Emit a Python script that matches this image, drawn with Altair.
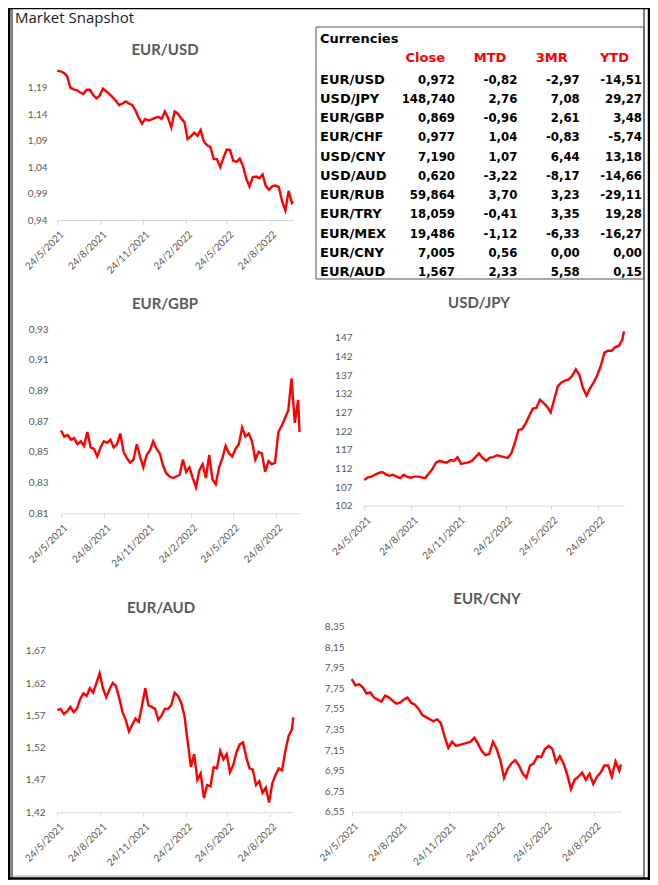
import altair as alt
import pandas as pd

# ---------------- data ----------------
START = "2021-05-24"
LAST = "2022-10-13"
DATES = list(pd.date_range(START, "2022-10-10", freq="7D")) + [pd.Timestamp(LAST)]

EURUSD = [1.222, 1.221, 1.218, 1.212, 1.190, 1.187, 1.185, 1.181, 1.178, 1.186,
          1.186, 1.176, 1.170, 1.175, 1.188, 1.183, 1.178, 1.172, 1.165, 1.157,
          1.160, 1.164, 1.160, 1.157, 1.147, 1.133, 1.122, 1.131, 1.128, 1.130,
          1.133, 1.135, 1.131, 1.145, 1.133, 1.115, 1.145, 1.141, 1.132, 1.125,
          1.093, 1.098, 1.105, 1.099, 1.110, 1.088, 1.081, 1.078, 1.055, 1.055,
          1.040, 1.058, 1.073, 1.072, 1.052, 1.050, 1.056, 1.042, 1.018, 1.003,
          1.021, 1.022, 1.019, 1.026, 1.004, 0.997, 1.004, 1.005, 1.002, 0.975,
          0.958, 0.995, 0.972, 0.975]

EURGBP = [0.864, 0.860, 0.861, 0.858, 0.859, 0.855, 0.857, 0.854, 0.863, 0.853,
          0.852, 0.847, 0.853, 0.857, 0.856, 0.858, 0.853, 0.855, 0.862, 0.850,
          0.846, 0.843, 0.845, 0.855, 0.847, 0.840, 0.848, 0.851, 0.857, 0.852,
          0.849, 0.841, 0.836, 0.834, 0.833, 0.834, 0.835, 0.845, 0.837, 0.840,
          0.833, 0.827, 0.838, 0.842, 0.833, 0.848, 0.832, 0.829, 0.840, 0.846,
          0.854, 0.849, 0.847, 0.852, 0.855, 0.866, 0.860, 0.862, 0.857, 0.845,
          0.850, 0.849, 0.837, 0.844, 0.842, 0.843, 0.863, 0.867, 0.872, 0.877,
          0.898, 0.869, 0.884, 0.863]

USDJPY = [108.9, 109.6, 109.8, 110.3, 110.8, 111.0, 110.4, 110.0, 110.3, 109.8,
          109.4, 110.3, 109.7, 109.5, 109.8, 109.8, 109.6, 109.4, 110.6, 111.8,
          113.5, 114.0, 113.7, 113.5, 114.2, 114.0, 115.0, 113.2, 113.4, 113.6,
          114.0, 115.0, 116.0, 114.8, 114.0, 114.9, 115.0, 115.5, 115.3, 115.0,
          114.8, 116.0, 118.8, 122.3, 122.5, 124.0, 126.0, 128.0, 128.2, 130.4,
          129.5, 128.5, 127.0, 130.5, 134.0, 135.0, 135.5, 135.8, 136.8, 138.5,
          137.0, 133.5, 131.5, 133.5, 135.0, 137.0, 139.5, 143.0, 143.5, 143.5,
          144.5, 144.8, 146.5, 148.7]

EURAUD = [1.578, 1.580, 1.572, 1.576, 1.583, 1.575, 1.580, 1.595, 1.604, 1.600,
          1.612, 1.605, 1.620, 1.635, 1.612, 1.598, 1.610, 1.620, 1.615, 1.597,
          1.575, 1.563, 1.545, 1.555, 1.565, 1.560, 1.585, 1.612, 1.585, 1.583,
          1.580, 1.563, 1.570, 1.580, 1.580, 1.586, 1.605, 1.600, 1.590, 1.570,
          1.530, 1.490, 1.510, 1.470, 1.480, 1.442, 1.462, 1.460, 1.490, 1.488,
          1.515, 1.502, 1.510, 1.482, 1.493, 1.513, 1.525, 1.528, 1.505, 1.488,
          1.486, 1.462, 1.468, 1.450, 1.458, 1.435, 1.465, 1.478, 1.488, 1.485,
          1.515, 1.538, 1.548, 1.567]

EURCNY = [7.84, 7.78, 7.79, 7.76, 7.70, 7.71, 7.66, 7.64, 7.62, 7.68,
          7.66, 7.63, 7.60, 7.61, 7.64, 7.66, 7.61, 7.59, 7.55, 7.49,
          7.47, 7.45, 7.43, 7.45, 7.41, 7.28, 7.17, 7.23, 7.19, 7.20,
          7.21, 7.22, 7.23, 7.27, 7.21, 7.14, 7.10, 7.11, 7.23, 7.16,
          7.05, 6.88, 6.97, 7.02, 7.05, 7.00, 6.92, 6.88, 7.00, 7.02,
          7.09, 7.08, 7.16, 7.19, 7.16, 7.03, 7.09, 7.02, 6.91, 6.77,
          6.86, 6.89, 6.93, 6.86, 6.92, 6.82, 6.89, 6.93, 7.00, 7.00,
          6.89, 7.04, 6.95, 7.01]

TICK_DATES = ["2021-05-24", "2021-08-24", "2021-11-24", "2022-02-24", "2022-05-24", "2022-08-24"]

TICKS_EURUSD = [0.94, 0.99, 1.04, 1.09, 1.14, 1.19]
TICKS_EURGBP = [0.81, 0.83, 0.85, 0.87, 0.89, 0.91, 0.93]
TICKS_USDJPY = [102, 107, 112, 117, 122, 127, 132, 137, 142, 147]
TICKS_EURAUD = [1.42, 1.47, 1.52, 1.57, 1.62, 1.67]
TICKS_EURCNY = [6.55, 6.75, 6.95, 7.15, 7.35, 7.55, 7.75, 7.95, 8.15, 8.35]

TABLE_PAIRS = ["EUR/USD", "USD/JPY", "EUR/GBP", "EUR/CHF", "USD/CNY", "USD/AUD",
               "EUR/RUB", "EUR/TRY", "EUR/MEX", "EUR/CNY", "EUR/AUD"]
TABLE_COLS = ["Close", "MTD", "3MR", "YTD"]
CLOSE = [0.972, 148.740, 0.869, 0.977, 7.190, 0.620, 59.864, 18.059, 19.486, 7.005, 1.567]
MTD = [-0.82, 2.76, -0.96, 1.04, 1.07, -3.22, 3.70, -0.41, -1.12, 0.56, 2.33]
MR3 = [-2.97, 7.08, 2.61, -0.83, 6.44, -8.17, 3.23, 3.35, -6.33, 0.00, 5.58]
YTD = [-14.51, 29.27, 3.48, -5.74, 13.18, -14.66, -29.11, 19.28, -16.27, 0.00, 0.15]

# ---------------- layout (reference pixels) ----------------
W, H = 642, 872
OFF = 8  # page margin


def px(v):
    return v - OFF


def dt(s):
    t = pd.Timestamp(s)
    return alt.DateTime(year=t.year, month=t.month, date=t.day)


D_TICK = (pd.Timestamp("2022-08-24") - pd.Timestamp(START)).days
D_LAST = (pd.Timestamp(LAST) - pd.Timestamp(START)).days

PANELS = [
    dict(name="EUR/USD", vals=EURUSD, ticks=TICKS_EURUSD, dec=2, tx=165, ty=55,
         x0=57.3, x1=270.0, yb=220.0, yt=87.7, lab=47),
    dict(name="EUR/GBP", vals=EURGBP, ticks=TICKS_EURGBP, dec=2, tx=165, ty=309,
         x0=61.0, x1=276.0, yb=513.3, yt=329.3, lab=48),
    dict(name="USD/JPY", vals=USDJPY, ticks=TICKS_USDJPY, dec=0, tx=479, ty=308,
         x0=364.3, x1=598.3, yb=505.7, yt=337.7, lab=352),
    dict(name="EUR/AUD", vals=EURAUD, ticks=TICKS_EURAUD, dec=2, tx=161, ty=613,
         x0=57.3, x1=270.0, yb=812.3, yt=650.7, lab=45),
    dict(name="EUR/CNY", vals=EURCNY, ticks=TICKS_EURCNY, dec=2, tx=487, ty=604,
         x0=351.7, x1=594.3, yb=811.7, yt=626.7, lab=344),
]

RED = "#FF0000"
GRAY_TXT = "#595959"
AXIS_GRAY = "#d9d9d9"
FONT = "Lato"

layers = []

for p in PANELS:
    df = pd.DataFrame({"date": DATES, "value": p["vals"]})
    xr1 = p["x0"] + (p["x1"] - p["x0"]) * D_LAST / D_TICK
    fmt = ".%df" % p["dec"]
    line = alt.Chart(df).mark_line(color=RED, strokeWidth=2.4).encode(
        x=alt.X("date:T",
                scale=alt.Scale(domain=[dt(START), dt(LAST)], range=[px(p["x0"]), px(xr1)], nice=False),
                axis=alt.Axis(orient="bottom", offset=px(p["yb"]) - H, values=[dt(d) for d in TICK_DATES],
                              labelExpr="timeFormat(datum.value, '%-d/%-m/%Y')",
                              labelAngle=-45, labelFont=FONT, labelFontSize=10, labelColor=GRAY_TXT,
                              labelFlush=False, labelOverlap=False, labelPadding=5, labelOffset=1,
                              domainColor=AXIS_GRAY, tickColor=AXIS_GRAY, tickSize=4,
                              grid=False, title=None)),
        y=alt.Y("value:Q",
                scale=alt.Scale(domain=[p["ticks"][0], p["ticks"][-1]], range=[px(p["yb"]), px(p["yt"])],
                                nice=False, zero=False),
                axis=alt.Axis(orient="left", offset=-px(p["lab"]), values=p["ticks"],
                              labelExpr="replace(format(datum.value, '%s'), '.', ',')" % fmt,
                              labelFont=FONT, labelFontSize=10, labelColor=GRAY_TXT,
                              labelFlush=False, labelOverlap=False, labelPadding=0,
                              ticks=False, tickSize=0, domain=False, grid=False, title=None)),
    )
    title = alt.Chart(pd.DataFrame({"t": [p["name"]]})).mark_text(
        font=FONT, fontSize=15, fontWeight="bold", color=GRAY_TXT, align="center", baseline="alphabetic"
    ).encode(x=alt.value(px(p["tx"])), y=alt.value(px(p["ty"])), text="t:N")
    layers += [line, title]

# ---------------- table ----------------
def f3(v):
    return ("%.3f" % v).replace(".", ",")


def f2(v):
    return ("%.2f" % v).replace(".", ",")


rows = []
for i, pair in enumerate(TABLE_PAIRS):
    rows.append({"pair": pair, "col": "Close", "txt": f3(CLOSE[i])})
    rows.append({"pair": pair, "col": "MTD", "txt": f2(MTD[i])})
    rows.append({"pair": pair, "col": "3MR", "txt": f2(MR3[i])})
    rows.append({"pair": pair, "col": "YTD", "txt": f2(YTD[i])})
cells = pd.DataFrame(rows)

row_scale = alt.Scale(type="point", domain=TABLE_PAIRS, range=[px(83.7), px(276.0)], padding=0)

table_box = alt.Chart(pd.DataFrame({"a": [0]})).mark_rect(
    fillOpacity=0, stroke="#555555", strokeWidth=1
).encode(x=alt.value(px(316)), x2=alt.value(px(644)), y=alt.value(px(27)), y2=alt.value(px(279)))

table_title = alt.Chart(pd.DataFrame({"t": ["Currencies"]})).mark_text(
    font="DejaVu Sans", fontSize=13, fontWeight="bold", color="#000000", align="left", baseline="alphabetic"
).encode(x=alt.value(px(320)), y=alt.value(px(42.7)), text="t:N")

headers = alt.Chart(pd.DataFrame({"col": TABLE_COLS})).mark_text(
    font="DejaVu Sans", fontSize=13, fontWeight="bold", color=RED, align="right", baseline="alphabetic"
).encode(
    x=alt.X("col:N", scale=alt.Scale(type="point", domain=TABLE_COLS, range=[px(445), px(629)], padding=0), axis=None),
    y=alt.value(px(61.7)),
    text="col:N",
)

names = alt.Chart(pd.DataFrame({"pair": TABLE_PAIRS})).mark_text(
    font="DejaVu Sans", fontSize=13, fontWeight="bold", color="#000000", align="left", baseline="alphabetic"
).encode(
    x=alt.value(px(320)),
    y=alt.Y("pair:N", scale=row_scale, axis=None),
    text="pair:N",
)

values = alt.Chart(cells).mark_text(
    font="DejaVu Sans Condensed", fontSize=13, fontWeight="bold", color="#000000", align="right", baseline="alphabetic"
).encode(
    x=alt.X("col:N", scale=alt.Scale(type="point", domain=TABLE_COLS, range=[px(455), px(642)], padding=0), axis=None),
    y=alt.Y("pair:N", scale=row_scale, axis=None),
    text="txt:N",
)

# ---------------- frame & page title ----------------
one = pd.DataFrame({"a": [0]})
BOT = H - 1.5
frame_top = alt.Chart(one).mark_rule(color="#000000", strokeWidth=1.2).encode(
    x=alt.value(0), x2=alt.value(px(650)), y=alt.value(0.6))
frame_bot = alt.Chart(one).mark_rule(color="#000000", strokeWidth=2.5).encode(
    x=alt.value(0), x2=alt.value(px(650)), y=alt.value(BOT))
frame_l = alt.Chart(one).mark_rule(color="#000000", strokeWidth=2.5).encode(
    x=alt.value(1.2), y=alt.value(0), y2=alt.value(BOT + 1.2))
frame_r = alt.Chart(one).mark_rule(color="#000000", strokeWidth=2.5).encode(
    x=alt.value(px(649)), y=alt.value(0), y2=alt.value(BOT + 1.2))
inner_l = alt.Chart(one).mark_rule(color="#000000", strokeWidth=1).encode(
    x=alt.value(px(12)), y=alt.value(0.6), y2=alt.value(BOT))
inner_r = alt.Chart(one).mark_rule(color="#000000", strokeWidth=1).encode(
    x=alt.value(px(644)), y=alt.value(0.6), y2=alt.value(BOT))
inner_b = alt.Chart(one).mark_rule(color="#9a9a9a", strokeWidth=1).encode(
    x=alt.value(px(12)), x2=alt.value(px(644)), y=alt.value(BOT - 2.5))
page_title = alt.Chart(pd.DataFrame({"t": ["Market Snapshot"]})).mark_text(
    font="Open Sans", fontSize=15, color="#1a1a1a", align="left", baseline="alphabetic"
).encode(x=alt.value(px(15)), y=alt.value(px(22.5)), text="t:N")

chart = alt.layer(
    frame_top, frame_bot, frame_l, frame_r, inner_l, inner_r, inner_b, page_title,
    table_box, table_title, headers, names, values, *layers
).resolve_scale(x="independent", y="independent").resolve_axis(x="independent", y="independent").properties(
    width=W, height=H, padding=0, autosize=alt.AutoSizeParams(type="none")
).configure_view(stroke=None).configure(background="white")

chart.save("out.html", embed_options={"renderer": "svg", "actions": False})
